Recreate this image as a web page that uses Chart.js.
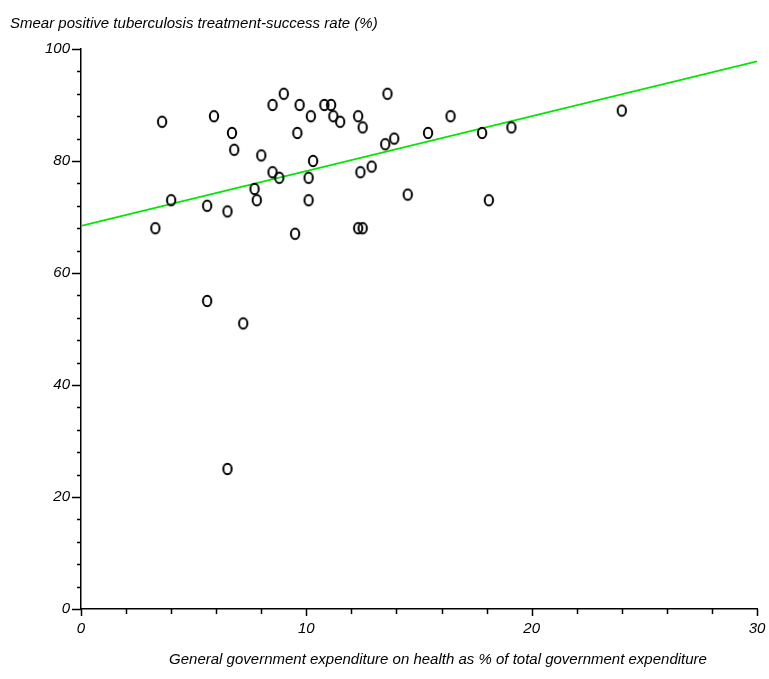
<!DOCTYPE html>
<html>
<head>
<meta charset="utf-8">
<script src="https://cdn.jsdelivr.net/npm/chart.js@4.4.1/dist/chart.umd.min.js"></script>
<style>
  html, body { margin: 0; padding: 0; background: #fff; }
</style>
</head>
<body>
<canvas id="chart" width="769" height="679"></canvas>
<script>
// values
const govHealthSpend = [3.3, 3.6, 4.0, 5.6, 5.6, 5.9, 6.5, 6.5, 6.7, 6.8, 7.2, 7.7, 7.8, 8.0, 8.5,
    8.5, 8.8, 9.0, 9.5, 9.6, 9.7, 10.1, 10.1, 10.2, 10.3, 10.8, 11.1, 11.2, 11.5, 12.3,
    12.3, 12.4, 12.5, 12.5, 12.9, 13.5, 13.6, 13.9, 14.5, 15.4, 16.4, 17.8, 18.1, 19.1, 24.0];
const tbSuccessRate = [68, 87, 73, 72, 55, 88, 71, 25, 85, 82, 51, 75, 73, 81, 90,
    78, 77, 92, 67, 85, 90, 77, 73, 88, 80, 90, 90, 88, 87, 88,
    68, 78, 86, 68, 79, 83, 92, 84, 74, 85, 88, 85, 73, 86, 89];

// fitted line end points
const fitX = [0, 30];
const fitY = [68.4, 97.8];

const xLabelTicks = [0, 10, 20, 30];
const yLabelTicks = [0, 20, 40, 60, 80, 100];

const yTitle = 'Smear positive tuberculosis treatment-success rate (%)';
const xTitle = 'General government expenditure on health as % of total government expenditure';

const FONT = '"Liberation Sans", Arial, Helvetica, sans-serif';

// open elliptical marker like the original plot
const marker = document.createElement('canvas');
marker.width = 14;
marker.height = 16;
(function() {
    const c = marker.getContext('2d');
    c.strokeStyle = '#000';
    c.lineWidth = 2;
    c.beginPath();
    c.ellipse(7, 8, 4.2, 5.2, 0, 0, Math.PI * 2);
    c.stroke();
})();

const points = govHealthSpend.map((x, i) => ({ x: x, y: tbSuccessRate[i] }));
const fitLine = fitX.map((x, i) => ({ x: x, y: fitY[i] }));

// tick marks outside the axes, longer at the labelled values
const tickMarks = {
    id: 'tickMarks',
    afterDraw(chart) {
        const ctx = chart.ctx;
        const xs = chart.scales.x, ys = chart.scales.y;
        ctx.save();
        ctx.strokeStyle = '#000';
        ctx.lineWidth = 1.5;
        xs.ticks.forEach(t => {
            const px = Math.round(xs.getPixelForValue(t.value)) + 0.5;
            const len = xLabelTicks.includes(t.value) ? 7 : 5;
            ctx.beginPath();
            ctx.moveTo(px, ys.bottom);
            ctx.lineTo(px, ys.bottom + len);
            ctx.stroke();
        });
        ys.ticks.forEach(t => {
            const py = Math.round(ys.getPixelForValue(t.value)) + 0.5;
            const len = yLabelTicks.includes(t.value) ? 9 : 4;
            ctx.beginPath();
            ctx.moveTo(xs.left, py);
            ctx.lineTo(xs.left - len, py);
            ctx.stroke();
        });
        ctx.restore();
    }
};

// axis titles as in the original: y title flat at the top left
const axisTitles = {
    id: 'axisTitles',
    afterDraw(chart) {
        const ctx = chart.ctx;
        ctx.save();
        ctx.fillStyle = '#000';
        ctx.font = 'italic 15px ' + FONT;
        ctx.textBaseline = 'alphabetic';
        ctx.textAlign = 'left';
        ctx.fillText(yTitle, 10, 28);
        ctx.textAlign = 'center';
        ctx.fillText(xTitle, 438, 664);
        ctx.restore();
    }
};

new Chart(document.getElementById('chart'), {
    type: 'scatter',
    data: {
        datasets: [
            {
                label: 'countries',
                data: points,
                pointStyle: marker,
                pointRadius: 5,
                pointHoverRadius: 5,
                showLine: false
            },
            {
                type: 'line',
                label: 'fit',
                data: fitLine,
                borderColor: '#00e600',
                borderWidth: 1.8,
                pointRadius: 0,
                fill: false
            }
        ]
    },
    options: {
        responsive: false,
        animation: false,
        events: [],
        layout: { padding: { left: 0, right: 12, top: 49, bottom: 0 } },
        plugins: {
            legend: { display: false },
            tooltip: { enabled: false }
        },
        scales: {
            x: {
                type: 'linear',
                min: 0,
                max: 30,
                grid: { display: false, drawTicks: false },
                border: { display: true, color: '#000', width: 1.5 },
                ticks: {
                    stepSize: 2,
                    autoSkip: false,
                    maxRotation: 0,
                    padding: 11,
                    color: '#000',
                    font: { family: FONT, size: 15, style: 'italic' },
                    callback: v => xLabelTicks.includes(v) ? String(v) : ''
                },
                afterFit: s => { s.height = 70; s.paddingLeft = 0; s.paddingRight = 0; }
            },
            y: {
                type: 'linear',
                min: 0,
                max: 100,
                grid: { display: false, drawTicks: false },
                border: { display: true, color: '#000', width: 1.5 },
                ticks: {
                    stepSize: 4,
                    autoSkip: false,
                    padding: 11,
                    color: '#000',
                    font: { family: FONT, size: 15, style: 'italic' },
                    callback: v => yLabelTicks.includes(v) ? String(v) : ''
                },
                afterFit: s => { s.width = 81; s.paddingTop = 0; s.paddingBottom = 0; }
            }
        }
    },
    plugins: [tickMarks, axisTitles]
});
</script>
</body>
</html>
